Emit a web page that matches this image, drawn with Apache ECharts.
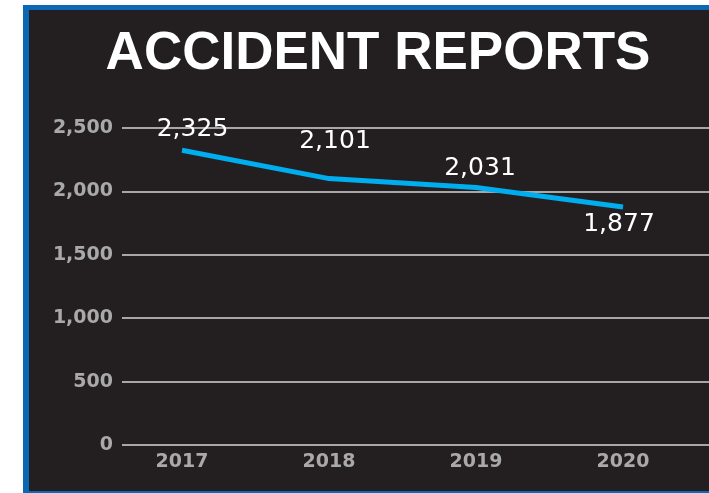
<!DOCTYPE html>
<html>
<head>
<meta charset="utf-8">
<script src="https://cdn.jsdelivr.net/npm/echarts@6/dist/echarts.min.js"></script>
<style>
html,body{margin:0;padding:0;background:#fff;}
#chart{width:709px;height:493px;}
</style>
</head>
<body>
<div id="chart"></div>
<script>
const titleText = "ACCIDENT REPORTS";
const years = ["2017", "2018", "2019", "2020"];
const reports = [2325, 2101, 2031, 1877];
const yTicks = [0, 500, 1000, 1500, 2000, 2500];

// label placement per point, relative to the point (layout only)
const labelShift = [
  [10.5, -21],
  [6, -37],
  [4, -18.5],
  [-4, 18]
];

const chart = echarts.init(document.getElementById('chart'), null, { renderer: 'canvas' });
const fmt = v => v.toLocaleString('en-US');

const option = {
  backgroundColor: '#ffffff',
  animation: false,
  graphic: [
    { type: 'rect', z: -10, shape: { x: 23, y: 5, width: 686, height: 488 }, style: { fill: '#0a68b4' } },
    { type: 'rect', z: -9, shape: { x: 29, y: 10, width: 680, height: 481 }, style: { fill: '#231f20' } },
    { type: 'text', z: 10, x: 378, y: 28,
      style: { text: titleText, fill: '#ffffff', font: 'bold 53px "Liberation Sans", Arial, sans-serif',
               textAlign: 'center', textVerticalAlign: 'top' } }
  ],
  grid: [
    { left: 122, right: 0, top: 128, bottom: 48 },
    { left: 108.5, right: 12.5, top: 128, bottom: 48 }
  ],
  xAxis: [
    { type: 'category', gridIndex: 0, data: years, show: false },
    { type: 'category', gridIndex: 1, data: years, boundaryGap: true,
      axisLine: { show: false }, axisTick: { show: false },
      axisLabel: { color: '#a9a9ab', fontFamily: '"DejaVu Sans", sans-serif', fontWeight: 'bold', fontSize: 19, margin: 8 } }
  ],
  yAxis: [
    { type: 'value', gridIndex: 0, min: yTicks[0], max: yTicks[yTicks.length - 1], interval: yTicks[1] - yTicks[0],
      axisLine: { show: false }, axisTick: { show: false },
      axisLabel: { color: '#a9a9ab', fontFamily: '"DejaVu Sans", sans-serif', fontWeight: 'bold', fontSize: 19, margin: 9,
                   formatter: v => fmt(v) },
      splitLine: { show: true, lineStyle: { color: '#a7a7a9', width: 2 } } },
    { type: 'value', gridIndex: 1, min: yTicks[0], max: yTicks[yTicks.length - 1], interval: yTicks[1] - yTicks[0],
      show: false, splitLine: { show: false } }
  ],
  series: [{
    type: 'line',
    xAxisIndex: 1, yAxisIndex: 1,
    data: reports.map((v, i) => ({
      value: v,
      label: { show: true, position: [0.5 + labelShift[i][0], 0.5 + labelShift[i][1]], align: 'center', verticalAlign: 'middle' }
    })),
    symbol: 'circle',
    showSymbol: true,
    symbolSize: 1,
    itemStyle: { color: 'rgba(0,0,0,0)', borderWidth: 0 },
    lineStyle: { color: '#00aeef', width: 5, cap: 'butt' },
    label: { show: true, color: '#ffffff', fontFamily: '"DejaVu Sans", sans-serif', fontSize: 25,
             formatter: p => fmt(p.value) },
    labelLayout: { hideOverlap: false },
    z: 5
  }]
};
chart.setOption(option);
</script>
</body>
</html>
